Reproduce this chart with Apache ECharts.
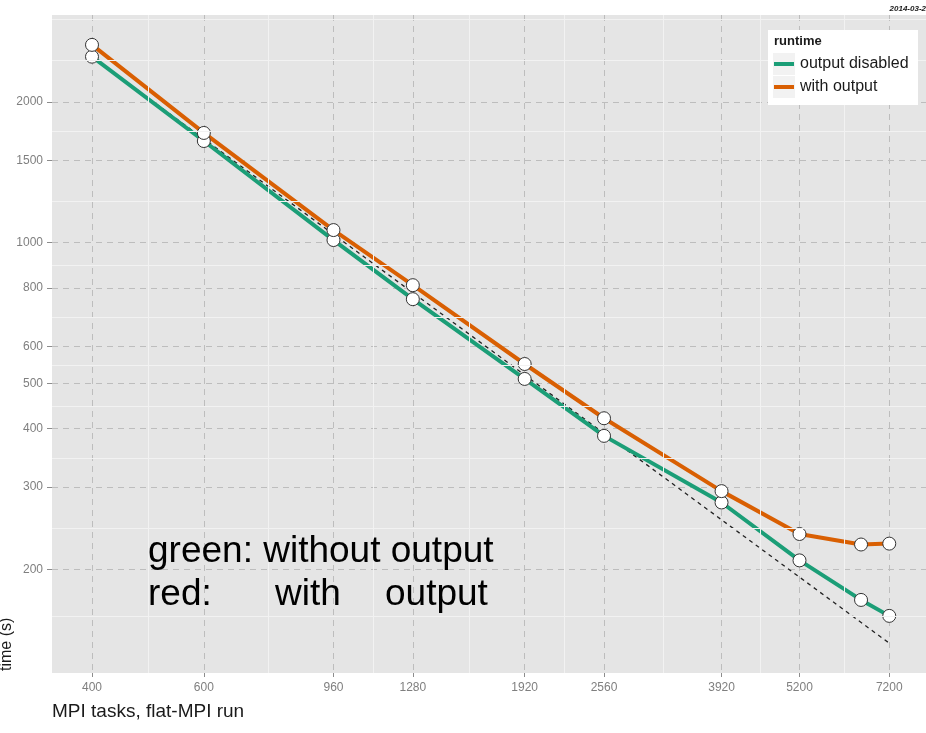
<!DOCTYPE html>
<html>
<head>
<meta charset="utf-8">
<script src="https://cdn.jsdelivr.net/npm/echarts@6/dist/echarts.min.js"></script>
<style>
  html, body { margin: 0; padding: 0; background: #fff; }
  #main { width: 926px; height: 733px; }
</style>
</head>
<body>
<div id="main"></div>
<script>
// MPI tasks (x) and runtimes in seconds (y)
const tasks = [400, 600, 960, 1280, 1920, 2560, 3920, 5200, 6500, 7200];
const outputDisabled = [2500, 1650, 1013, 757, 511, 386, 278, 209, 172, 159];
const withOutput = [2650, 1717, 1064, 811, 550, 421, 294, 238, 226, 227];
// ideal scaling reference (dashed), end points
const idealTasks = [400, 7200];
const idealTime = [2500, 139];

const xTicks = [400, 600, 960, 1280, 1920, 2560, 3920, 5200, 7200];
const yTicks = [200, 300, 400, 500, 600, 800, 1000, 1500, 2000];
// minor breaks outside the major range
const yMinorExtra = [159, 2460, 3000];

const GREEN = '#1B9E77';
const ORANGE = '#D95F02';

function midBreaks(ticks) {
    let out = [];
    for (let i = 1; i < ticks.length; i++) {
        out.push(Math.sqrt(ticks[i - 1] * ticks[i]));
    }
    return out;
}

function pairs(xs, ys) {
    return xs.map((x, i) => [x, ys[i]]);
}

let chart = echarts.init(document.getElementById('main'));

let gridDash = { color: '#BDBDBD', width: 1, type: [6, 5] };
let axisText = {
    color: '#7F7F7F',
    fontSize: 12,
    fontFamily: 'Liberation Sans',
    formatter: v => String(Math.round(v))
};

let minorLines = midBreaks(xTicks).map(v => ({ xAxis: v }))
    .concat(midBreaks(yTicks).concat(yMinorExtra).map(v => ({ yAxis: v })));

let option = {
    animation: false,
    textStyle: { fontFamily: 'Liberation Sans' },
    grid: {
        left: 52,
        top: 15,
        right: 0,
        bottom: 60,
        show: true,
        backgroundColor: '#E5E5E5',
        borderWidth: 0
    },
    xAxis: {
        type: 'log',
        logBase: 10,
        min: 346,
        max: 8226,
        axisLine: { show: false },
        axisTick: {
            show: true,
            length: 4,
            customValues: xTicks,
            lineStyle: { color: '#8C8C8C' }
        },
        axisLabel: Object.assign({ customValues: xTicks, margin: 9 }, axisText),
        splitLine: { show: true, lineStyle: gridDash }
    },
    yAxis: {
        type: 'log',
        logBase: 10,
        min: 120,
        max: 3070,
        axisLine: { show: false },
        axisTick: {
            show: true,
            length: 5,
            customValues: yTicks,
            lineStyle: { color: '#8C8C8C' }
        },
        axisLabel: Object.assign({ customValues: yTicks, margin: 9 }, axisText),
        splitLine: { show: true, lineStyle: gridDash }
    },
    legend: {
        orient: 'vertical',
        left: 774,
        top: 56,
        icon: 'rect',
        itemWidth: 20,
        itemHeight: 4,
        itemGap: 7,
        padding: 0,
        z: 10,
        textStyle: { fontSize: 16, color: '#1a1a1a', padding: [0, 0, 0, 1] },
        data: [
            { name: 'output disabled', itemStyle: { color: GREEN, borderWidth: 0 } },
            { name: 'with output', itemStyle: { color: ORANGE, borderWidth: 0 } }
        ]
    },
    graphic: [
        {
            type: 'rect',
            z: 8,
            shape: { x: 768, y: 30, width: 150, height: 75 },
            style: { fill: '#ffffff' }
        },
        {
            type: 'rect',
            z: 9,
            shape: { x: 773, y: 53, width: 22, height: 22 },
            style: { fill: '#F2F2F2' }
        },
        {
            type: 'rect',
            z: 9,
            shape: { x: 773, y: 76, width: 22, height: 22 },
            style: { fill: '#F2F2F2' }
        },
        {
            type: 'text',
            z: 10,
            x: 774,
            y: 35,
            style: { text: 'runtime', fontSize: 13, fontWeight: 'bold', fill: '#1a1a1a' }
        },
        {
            type: 'text',
            z: 10,
            x: 926,
            y: 5,
            style: {
                text: '2014-03-2', fontSize: 8, fontWeight: 'bold', fontStyle: 'italic',
                fill: '#1a1a1a', align: 'right'
            }
        },
        {
            type: 'text',
            z: 10,
            x: 148,
            y: 533,
            style: { text: 'green: without output', fontSize: 37, fill: '#000' }
        },
        {
            type: 'text',
            z: 10,
            x: 148,
            y: 576,
            style: { text: 'red:', fontSize: 37, fill: '#000' }
        },
        {
            type: 'text',
            z: 10,
            x: 275,
            y: 576,
            style: { text: 'with', fontSize: 37, fill: '#000' }
        },
        {
            type: 'text',
            z: 10,
            x: 385,
            y: 576,
            style: { text: 'output', fontSize: 37, fill: '#000' }
        },
        {
            type: 'text',
            z: 10,
            x: 52,
            y: 702,
            style: { text: 'MPI tasks, flat-MPI run', fontSize: 19, fill: '#1a1a1a' }
        },
        {
            type: 'text',
            z: 10,
            x: -1,
            y: 671,
            rotation: Math.PI / 2,
            style: { text: 'time (s)', fontSize: 16, fill: '#1a1a1a' }
        }
    ],
    series: [
        {
            name: 'minor',
            type: 'line',
            data: [],
            silent: true,
            z: 1,
            markLine: {
                silent: true,
                symbol: 'none',
                label: { show: false },
                lineStyle: { color: '#F2F2F2', width: 1, type: 'solid' },
                data: minorLines
            }
        },
        {
            name: 'output disabled',
            type: 'line',
            data: pairs(tasks, outputDisabled),
            symbol: 'circle',
            symbolSize: 13,
            z: 3,
            lineStyle: { color: GREEN, width: 4, cap: 'round', join: 'round' },
            itemStyle: { color: '#ffffff', borderColor: '#333333', borderWidth: 1 }
        },
        {
            name: 'with output',
            type: 'line',
            data: pairs(tasks, withOutput),
            symbol: 'circle',
            symbolSize: 13,
            z: 3,
            lineStyle: { color: ORANGE, width: 4, cap: 'round', join: 'round' },
            itemStyle: { color: '#ffffff', borderColor: '#333333', borderWidth: 1 }
        },
        {
            name: 'ideal',
            type: 'line',
            data: pairs(idealTasks, idealTime),
            symbol: 'none',
            silent: true,
            z: 2,
            lineStyle: { color: '#222222', width: 1.3, type: [4, 4] }
        }
    ]
};

chart.setOption(option);
</script>
</body>
</html>
